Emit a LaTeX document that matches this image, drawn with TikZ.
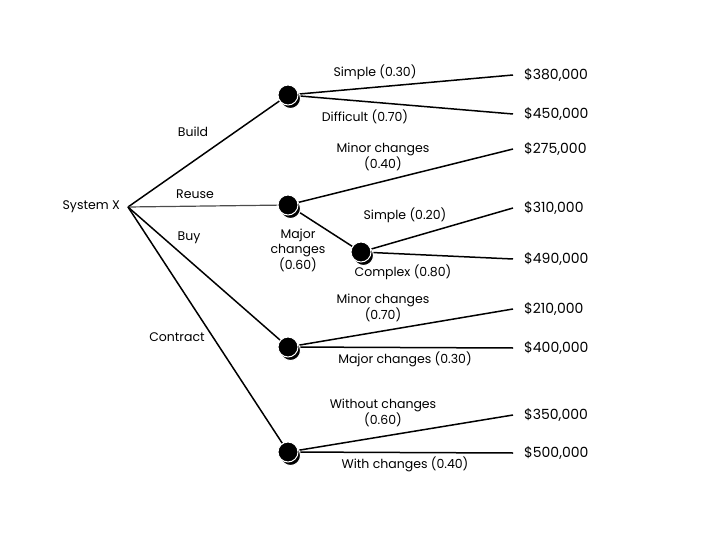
\documentclass[tikz,border=0pt]{standalone}
\usepackage{fontspec}
\setmainfont{Poppins}
\usetikzlibrary{positioning,shadows,backgrounds}

\begin{document}
\begin{tikzpicture}[x=1pt, y=-1pt,
  chance/.style={circle, fill=black, draw=white, line width=1pt,
    minimum size=20pt, inner sep=0pt,
    copy shadow={shadow xshift=2.5pt, shadow yshift=-3.5pt}},
  branch/.style={line width=1.5pt},
  lbl/.style={font=\fontsize{12.5}{15}\selectfont, align=center, inner sep=0pt},
  pay/.style={font=\fontsize{14}{16}\selectfont, anchor=west, inner sep=0pt}]
  \useasboundingbox (0,0) rectangle (720,540);

  % root and chance nodes
  \coordinate (sys) at (128,207);
  \node[lbl, anchor=east] (sysname) at (120,207) {System X};
  \node[chance] (build)    at (288,95)  {};
  \node[chance] (reuse)    at (288,205) {};
  \node[chance] (buy)      at (288,347) {};
  \node[chance] (contract) at (288,452) {};
  \node[chance] (major)    at (361,252) {};

  % payoffs
  \foreach \nm/\y/\val in {p1/75/380, p2/114/450, p3/149/275, p4/208/310,
      p5/259/490, p6/309/210, p7/348/400, p8/415/350, p9/453/500} {
    \coordinate (\nm) at (513,\y);
    \node[pay, right=11pt of \nm] (\nm v) {\$\val,000};
  }

  \begin{scope}[on background layer]
    \draw[branch] (sys) -- (build);
    \draw[line width=1.2pt, black!70] (sys) -- (reuse);
    \draw[branch] (sys) -- (buy);
    \draw[branch] (sys) -- (contract);
    \draw[branch] (build) -- (p1);
    \draw[branch] (build) -- (p2);
    \draw[branch] (reuse) -- (p3);
    \draw[branch] (reuse) -- (major);
    \draw[branch] (major) -- (p4);
    \draw[branch] (major) -- (p5);
    \draw[branch] (buy) -- (p6);
    \draw[branch] (buy) -- (p7);
    \draw[branch] (contract) -- (p8);
    \draw[branch] (contract) -- (p9);
  \end{scope}

  % branch labels
  \node[lbl] (lbuild)    at (193,132) {Build};
  \node[lbl] (lreuse)    at (195,194) {Reuse};
  \node[lbl] (lbuy)      at (189,238) {Buy};
  \node[lbl] (lcontract) at (177,337) {Contract};
  \node[lbl] (lsimple)   at (375,72)  {Simple (0.30)};
  \node[lbl] (ldiff)     at (365,117) {Difficult (0.70)};
  \node[lbl] (lminor)    at (383,157) {Minor changes\\(0.40)};
  \node[lbl] (lmajor)    at (298,250) {Major\\changes\\(0.60)};
  \node[lbl] (lsimpleb)  at (405,215) {Simple (0.20)};
  \node[lbl] (lcomplex)  at (403,272) {Complex (0.80)};
  \node[lbl] (lminorb)   at (383,308) {Minor changes\\(0.70)};
  \node[lbl] (lmajorb)   at (405,359) {Major changes (0.30)};
  \node[lbl] (lwithout)  at (383,413) {Without changes\\(0.60)};
  \node[lbl] (lwith)     at (405,464) {With changes (0.40)};
\end{tikzpicture}
\end{document}
